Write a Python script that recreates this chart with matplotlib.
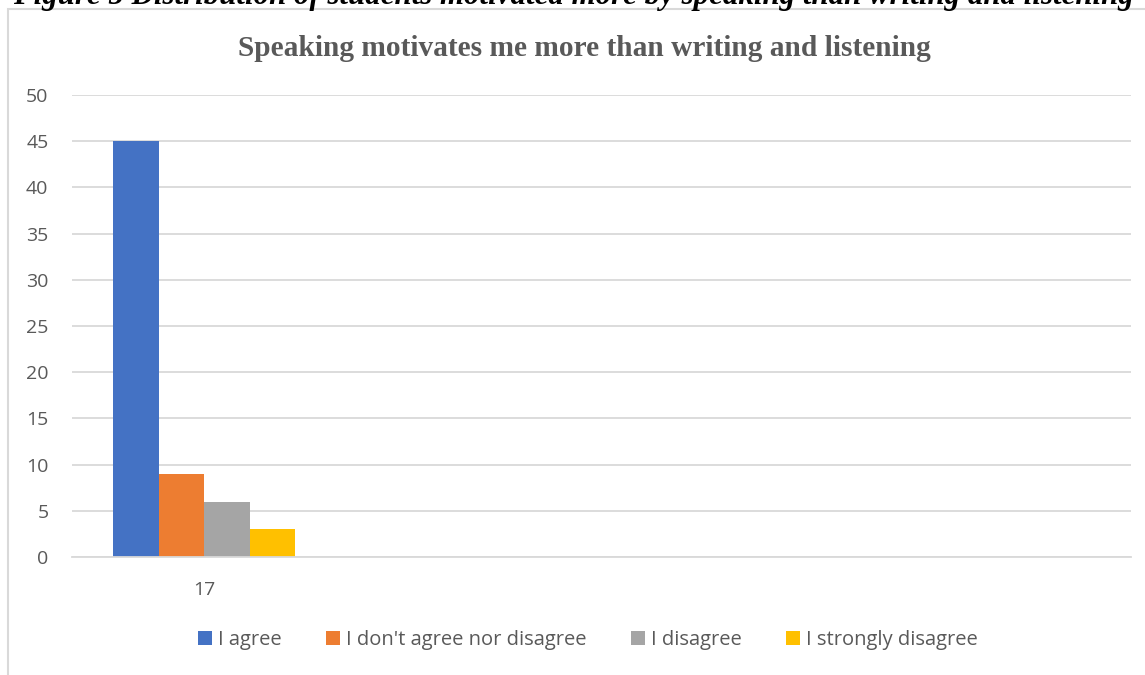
import numpy as np
import matplotlib.pyplot as plt
from matplotlib.patches import Rectangle

# chart data
categories = ["17", "", "", ""]
series_names = ["I agree", "I don't agree nor disagree", "I disagree", "I strongly disagree"]
series_values = [
    [45, np.nan, np.nan, np.nan],
    [9, np.nan, np.nan, np.nan],
    [6, np.nan, np.nan, np.nan],
    [3, np.nan, np.nan, np.nan],
]
colors = ["#4472C4", "#ED7D31", "#A5A5A5", "#FFC000"]
yticks = [0, 5, 10, 15, 20, 25, 30, 35, 40, 45, 50]

title = "Speaking motivates me more than writing and listening"
caption = "Figure 5 Distribution of students motivated more by speaking than writing and listening"

W, H = 1145, 675
fig = plt.figure(figsize=(W / 100, H / 100), dpi=100)

# chart area border (only left and top edges visible in the crop)
fig.patches.append(Rectangle((8 / W, -0.1), 1.2, 1 - 9 / H + 0.1, transform=fig.transFigure,
                             fill=False, edgecolor="#d9d9d9", linewidth=1.5))

ax = fig.add_axes([72 / W, 1 - 557 / H, (1131 - 72) / W, (557 - 95) / H])

x = np.arange(len(categories))
bw = 0.172
n = len(series_names)
for i, (name, vals, c) in enumerate(zip(series_names, series_values, colors)):
    ax.bar(x + (i - (n - 1) / 2) * bw, vals, width=bw, color=c, label=name)

ax.set_xlim(-0.5, len(categories) - 0.5)
ax.set_ylim(0, 50)
ax.set_yticks(yticks)
ax.set_xticks(x)
ax.set_xticklabels(categories)
ax.grid(axis="y", color="#d9d9d9", linewidth=1.3)
ax.set_axisbelow(True)
for s in ["top", "right", "left"]:
    ax.spines[s].set_visible(False)
ax.spines["bottom"].set_color("#d9d9d9")
ax.spines["bottom"].set_linewidth(1.3)
ax.tick_params(length=0, labelsize=14, labelcolor="#595959")
ax.tick_params(axis="x", pad=17)
ax.tick_params(axis="y", pad=17)
for lab in ax.get_xticklabels() + ax.get_yticklabels():
    lab.set_fontfamily("Open Sans")

fig.text(584 / W, 1 - 48 / H, title, ha="center", va="center", fontsize=21.2,
         fontweight="bold", color="#595959", family="Liberation Serif")

# caption cut off at the top of the image
fig.text(573 / W, 1 - 4 / H, caption, ha="center", va="baseline", fontsize=22.2,
         fontweight="bold", fontstyle="italic", color="black", family="Liberation Serif")

leg = fig.legend(loc="center", bbox_to_anchor=(588 / W, 1 - 640 / H), ncol=4, frameon=False,
                 prop={"family": "Open Sans", "size": 14.5}, handlelength=0.7, handleheight=0.7,
                 handletextpad=0.3, columnspacing=2.2)
for t in leg.get_texts():
    t.set_color("#595959")

fig.savefig("out.png", dpi=100)
